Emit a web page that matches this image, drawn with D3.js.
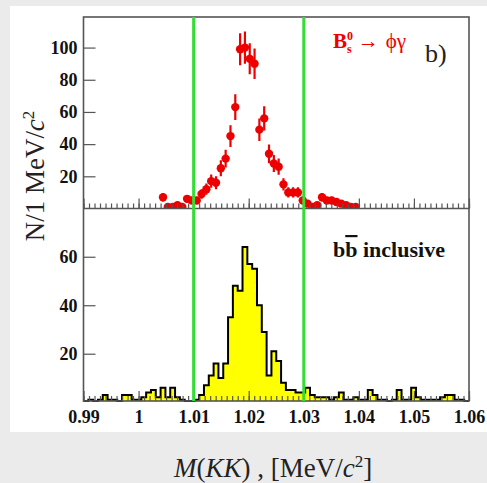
<!DOCTYPE html>
<html>
<head>
<meta charset="utf-8">
<script src="https://cdn.jsdelivr.net/npm/d3@7/dist/d3.min.js"></script>
<style>
  html, body { margin: 0; padding: 0; background: #ebebeb; }
  svg { display: block; }
</style>
</head>
<body>
<div id="chart"></div>
<script>
// binning of the M(KK) spectrum (GeV)
const massMin = 0.99;
const massMax = 1.06;
const nBins = 80;

// B_s -> phi gamma signal, counts per bin (null = empty bin)
const phiGammaCounts = [
  null, null, null, null, null, null, null, null, null, null,
  null, null, null, null, null, null, 7, 1, 1, 2,
  1, 6, 5, 5, 9, 12, 17, 16, 25, 31,
  45, 63, 99, 100, 93, 90, 49, 56, 34, 28,
  26, 15, 10, 10, 10, 5, 3, 1, 2, 7,
  5, 5, 4, 3, 2, 1, 1, null, null, null,
  null, null, null, null, null, null, null, null, null, null,
  null, null, null, null, null, null, null, null, null, null
];

// b bbar inclusive background, counts per bin
const bbCounts = [
  0, 1, 0, 1, 3, 1, 1, 0, 3, 3,
  1, 1, 2, 4, 5, 2, 6, 2, 6, 2,
  1, 0, 0, 1, 3, 7, 11, 16, 10, 16,
  35, 48, 46, 64, 57, 55, 40, 29, 11, 21,
  17, 8, 5, 5, 4, 4, 6, 3, 2, 2,
  2, 1, 2, 4, 1, 1, 2, 1, 1, 5,
  3, 1, 1, 0, 1, 5, 1, 1, 6, 2,
  1, 1, 1, 1, 2, 3, 3, 1, 1, 0
];

// axis ticks and labels
const xTickValues = [0.99, 1.00, 1.01, 1.02, 1.03, 1.04, 1.05, 1.06];
const xTickLabels = ["0.99", "1", "1.01", "1.02", "1.03", "1.04", "1.05", "1.06"];
const yTopTicks = [20, 40, 60, 80, 100];
const yBotTicks = [20, 40, 60];
const cutValues = [1.01, 1.03];

const width = 487, height = 483;
const frame = { left: 83.5, right: 469, top: 17, mid: 208.5, bottom: 401 };
const frameColor = "#555";
const serif = "'Liberation Serif', 'DejaVu Serif', serif";

const svg = d3.select("#chart").append("svg")
  .attr("width", width)
  .attr("height", height);

// background: grey page with white figure area
svg.append("rect").attr("width", width).attr("height", height).attr("fill", "#ebebeb");
svg.append("rect").attr("x", 10).attr("y", 6).attr("width", width - 10).attr("height", 426).attr("fill", "#fff");

const binWidth = (massMax - massMin) / nBins;
const x = d3.scaleLinear().domain([massMin, massMax]).range([frame.left, frame.right]);
const yTop = d3.scaleLinear().domain([0, 119]).range([frame.mid, frame.top]);
const yBot = d3.scaleLinear().domain([0.5, 79.9]).range([frame.bottom, frame.mid]);

const defs = svg.append("defs");
defs.append("clipPath").attr("id", "clip-top")
  .append("rect")
  .attr("x", frame.left).attr("y", frame.top)
  .attr("width", frame.right - frame.left).attr("height", frame.mid - frame.top);

/**
 * bottom panel: filled histogram
 */
const bins = bbCounts.map((v, i) => ({ lo: massMin + i * binWidth, v }));
bins.push({ lo: massMax, v: bbCounts[bbCounts.length - 1] });
const clampBot = v => yBot(Math.max(v, yBot.domain()[0]));

svg.append("path")
  .datum(bins)
  .attr("fill", "#ffff00")
  .attr("d", d3.area()
    .curve(d3.curveStepAfter)
    .x(d => x(d.lo))
    .y0(frame.bottom)
    .y1(d => clampBot(d.v)));

svg.append("path")
  .datum(bins)
  .attr("fill", "none")
  .attr("stroke", "#000")
  .attr("stroke-width", 2)
  .attr("d", d3.line()
    .curve(d3.curveStepAfter)
    .x(d => x(d.lo))
    .y(d => clampBot(d.v)));

/**
 * top panel: points with sqrt(N) errors
 */
const points = phiGammaCounts
  .map((v, i) => ({ m: massMin + (i + 0.5) * binWidth, v }))
  .filter(d => d.v != null);

const topPanel = svg.append("g").attr("clip-path", "url(#clip-top)");

topPanel.selectAll("line.err")
  .data(points)
  .enter()
  .append("line")
  .attr("class", "err")
  .attr("x1", d => x(d.m))
  .attr("x2", d => x(d.m))
  .attr("y1", d => yTop(d.v + Math.sqrt(d.v)))
  .attr("y2", d => yTop(Math.max(0, d.v - Math.sqrt(d.v))))
  .attr("stroke", "#ee0000")
  .attr("stroke-width", 2.2);

topPanel.selectAll("circle.pt")
  .data(points)
  .enter()
  .append("circle")
  .attr("class", "pt")
  .attr("cx", d => x(d.m))
  .attr("cy", d => yTop(d.v))
  .attr("r", 4.2)
  .attr("fill", "#ee0000");

/**
 * axes and frame
 */
function styleAxis(g) {
  g.select(".domain").remove();
  g.selectAll(".tick line").attr("stroke", frameColor).attr("stroke-width", 1.2);
  g.selectAll(".tick text")
    .attr("fill", "#111")
    .style("font-family", serif)
    .style("font-weight", "bold")
    .style("font-size", "18px");
}

const minorTicks = d3.range(0, 71).map(i => +(massMin + i * 0.001).toFixed(3));

[frame.mid, frame.bottom].forEach(yy => {
  svg.append("g")
    .attr("transform", `translate(0,${yy})`)
    .call(d3.axisBottom(x).tickValues(minorTicks).tickSize(-5).tickFormat(""))
    .call(styleAxis);
});

svg.append("g")
  .attr("transform", `translate(0,${frame.mid})`)
  .call(d3.axisBottom(x).tickValues(xTickValues).tickSize(-10).tickFormat(""))
  .call(styleAxis);

svg.append("g")
  .attr("transform", `translate(0,${frame.bottom})`)
  .call(d3.axisBottom(x).tickValues(xTickValues).tickSize(-10).tickPadding(9)
    .tickFormat((d, i) => xTickLabels[i]))
  .call(styleAxis);

svg.append("g")
  .attr("transform", `translate(${frame.left},0)`)
  .call(d3.axisLeft(yTop).tickValues(yTopTicks).tickSize(-12).tickPadding(6))
  .call(styleAxis);

svg.append("g")
  .attr("transform", `translate(${frame.left},0)`)
  .call(d3.axisLeft(yBot).tickValues(yBotTicks).tickSize(-12).tickPadding(6))
  .call(styleAxis);

svg.append("rect")
  .attr("x", frame.left).attr("y", frame.top)
  .attr("width", frame.right - frame.left).attr("height", frame.bottom - frame.top)
  .attr("fill", "none").attr("stroke", frameColor).attr("stroke-width", 1.6);

svg.append("line")
  .attr("x1", frame.left).attr("x2", frame.right)
  .attr("y1", frame.mid).attr("y2", frame.mid)
  .attr("stroke", frameColor).attr("stroke-width", 1.6);

// mass window cuts
svg.selectAll("line.cut")
  .data(cutValues)
  .enter()
  .append("line")
  .attr("class", "cut")
  .attr("x1", d => x(d)).attr("x2", d => x(d))
  .attr("y1", frame.top).attr("y2", frame.bottom)
  .attr("stroke", "#33dd33")
  .attr("stroke-width", 3);

/**
 * texts
 */
const yTitle = svg.append("text")
  .attr("transform", "translate(44,176) rotate(-90)")
  .attr("text-anchor", "middle")
  .style("font-family", serif)
  .style("font-size", "27px")
  .attr("fill", "#222");
yTitle.append("tspan").text("N/1 MeV/");
yTitle.append("tspan").style("font-style", "italic").text("c");
yTitle.append("tspan").attr("dy", -10).style("font-size", "17px").text("2");

const xTitle = svg.append("text")
  .attr("x", 273).attr("y", 477)
  .attr("text-anchor", "middle")
  .style("font-family", serif)
  .style("font-size", "27px")
  .attr("fill", "#222");
xTitle.append("tspan").style("font-style", "italic").text("M");
xTitle.append("tspan").text("(");
xTitle.append("tspan").style("font-style", "italic").text("KK");
xTitle.append("tspan").text(") , [MeV/");
xTitle.append("tspan").style("font-style", "italic").text("c");
xTitle.append("tspan").attr("dy", -10).style("font-size", "17px").text("2");
xTitle.append("tspan").attr("dy", 10).text("]");

// signal label: B_s^0 -> phi gamma
const sig = svg.append("text")
  .attr("x", 333).attr("y", 48)
  .style("font-family", serif)
  .style("font-size", "21px")
  .style("font-weight", "bold")
  .attr("fill", "#ee0000");
sig.append("tspan").text("B");
sig.append("tspan").attr("dy", -8).style("font-size", "12px").text("0");
sig.append("tspan").attr("dx", -6).attr("dy", 13).style("font-size", "12px").text("s");
sig.append("tspan").attr("dx", 6).attr("dy", -5).style("font-weight", "normal").text("\u2192");
sig.append("tspan").attr("dx", 7).style("font-weight", "normal").text("\u03d5\u03b3");

svg.append("text")
  .attr("x", 425).attr("y", 62)
  .style("font-family", serif)
  .style("font-size", "26px")
  .attr("fill", "#222")
  .text("b)");

const bb = svg.append("text")
  .attr("x", 333).attr("y", 257)
  .style("font-family", serif)
  .style("font-size", "22px")
  .style("font-weight", "bold")
  .attr("fill", "#111");
bb.append("tspan").text("b");
bb.append("tspan").style("text-decoration", "overline").text("b");
bb.append("tspan").text(" inclusive");
</script>
</body>
</html>
